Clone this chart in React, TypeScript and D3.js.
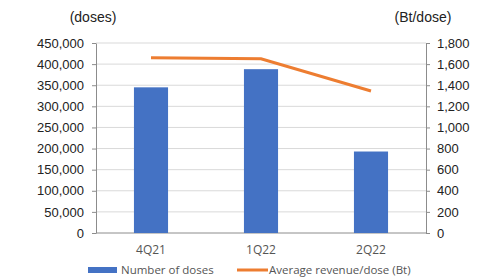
import React, { useRef, useEffect } from 'react';
import * as d3 from 'd3';

const categories = ['4Q21', '1Q22', '2Q22'];
const doses = [345000, 388000, 193000];
const revenuePerDose = [1660, 1650, 1345];
const leftTicks = [0, 50000, 100000, 150000, 200000, 250000, 300000, 350000, 400000, 450000];
const rightTicks = [0, 200, 400, 600, 800, 1000, 1200, 1400, 1600, 1800];

const App = () => {
  const svgRef = useRef<SVGSVGElement>(null);

  useEffect(() => {
    if (!svgRef.current) return;
    const svg = d3.select(svgRef.current);
    svg.selectAll('*').remove();

    const left = 96, right = 426, top = 43, bottom = 233;

    const x = d3.scaleBand().domain(categories).range([left, right]).paddingInner(0.69).paddingOuter(0.345);
    const yL = d3.scaleLinear().domain([0, 450000]).range([bottom, top]);
    const yR = d3.scaleLinear().domain([0, 1800]).range([bottom, top]);

    // сетка
    svg.append('g')
      .selectAll('line')
      .data(leftTicks.slice(1))
      .enter()
      .append('line')
      .attr('x1', left).attr('x2', right)
      .attr('y1', d => yL(d)).attr('y2', d => yL(d))
      .attr('stroke', '#d9d9d9').attr('stroke-width', 1);

    const fmt = d3.format(',');

    const axL = svg.append('g')
      .attr('transform', `translate(${left},0)`)
      .call(d3.axisLeft(yL).tickValues(leftTicks).tickSize(4).tickSizeOuter(0).tickFormat(d => fmt(d as number)));
    const axR = svg.append('g')
      .attr('transform', `translate(${right},0)`)
      .call(d3.axisRight(yR).tickValues(rightTicks).tickSize(4).tickSizeOuter(0).tickFormat(d => fmt(d as number)));

    [axL, axR].forEach(ax => {
      ax.select('.domain').attr('stroke', '#8c8c8c');
      ax.selectAll('.tick line').attr('stroke', '#8c8c8c');
      ax.selectAll('.tick text')
        .attr('fill', '#222')
        .attr('font-size', '13px')
        .attr('font-family', 'Liberation Sans, Arial, sans-serif');
    });
    axL.selectAll('.tick text').attr('x', -12);
    axR.selectAll('.tick text').attr('x', 11);

    // ось X
    svg.append('line')
      .attr('x1', left).attr('x2', right)
      .attr('y1', bottom).attr('y2', bottom)
      .attr('stroke', '#8c8c8c');

    svg.append('g')
      .selectAll('text')
      .data(categories)
      .enter()
      .append('text')
      .attr('x', d => x(d)! + x.bandwidth() / 2)
      .attr('y', 254)
      .attr('text-anchor', 'middle')
      .attr('fill', '#555')
      .attr('font-size', '12px')
      .attr('font-family', 'Open Sans, sans-serif')
      .text(d => d);

    // столбцы
    svg.append('g')
      .selectAll('rect')
      .data(doses)
      .enter()
      .append('rect')
      .attr('x', (d, i) => x(categories[i])!)
      .attr('y', d => yL(d))
      .attr('width', x.bandwidth())
      .attr('height', d => bottom - yL(d))
      .attr('fill', '#4472c4');

    // линия
    const line = d3.line<number>()
      .x((d, i) => x(categories[i])! + x.bandwidth() / 2)
      .y(d => yR(d));
    svg.append('path')
      .datum(revenuePerDose)
      .attr('fill', 'none')
      .attr('stroke', '#ed7d31')
      .attr('stroke-width', 3)
      .attr('d', line);

    // заголовки осей
    svg.append('text')
      .attr('x', 93).attr('y', 22)
      .attr('text-anchor', 'middle')
      .attr('font-size', '14px')
      .attr('fill', '#222')
      .attr('font-family', 'Liberation Sans, Arial, sans-serif')
      .text('(doses)');
    svg.append('text')
      .attr('x', 423).attr('y', 22)
      .attr('text-anchor', 'middle')
      .attr('font-size', '14px')
      .attr('fill', '#222')
      .attr('font-family', 'Liberation Sans, Arial, sans-serif')
      .text('(Bt/dose)');

    // легенда
    const lg = svg.append('g');
    lg.append('rect').attr('x', 88).attr('y', 267).attr('width', 29).attr('height', 6).attr('fill', '#4472c4');
    lg.append('text').attr('x', 121).attr('y', 274)
      .attr('font-size', '11.5px').attr('fill', '#555')
      .attr('font-family', 'Open Sans, sans-serif')
      .text('Number of doses');
    lg.append('line').attr('x1', 237).attr('x2', 268).attr('y1', 270).attr('y2', 270)
      .attr('stroke', '#ed7d31').attr('stroke-width', 3);
    lg.append('text').attr('x', 269).attr('y', 274)
      .attr('font-size', '11.5px').attr('fill', '#555')
      .attr('font-family', 'Open Sans, sans-serif')
      .text('Average revenue/dose (Bt)');
  }, []);

  return (
    <svg ref={svgRef} width={486} height={280}
      style={{ position: 'absolute', left: 0, top: 0, background: '#fff' }} />
  );
};

export default App;
